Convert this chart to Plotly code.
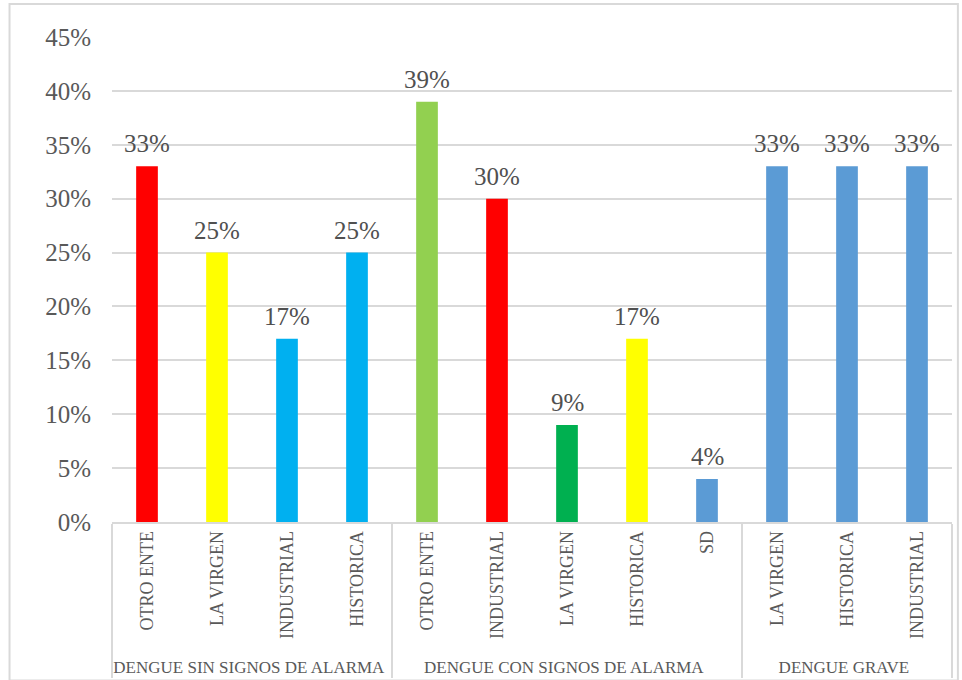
import plotly.graph_objects as go

groups = ["DENGUE SIN SIGNOS DE ALARMA"] * 4 + ["DENGUE CON SIGNOS DE ALARMA"] * 5 + ["DENGUE GRAVE"] * 3
categories = ["OTRO ENTE", "LA VIRGEN", "INDUSTRIAL", "HISTORICA",
              "OTRO ENTE", "INDUSTRIAL", "LA VIRGEN", "HISTORICA", "SD",
              "LA VIRGEN", "HISTORICA", "INDUSTRIAL"]
values = [0.33, 0.25, 0.17, 0.25, 0.39, 0.30, 0.09, 0.17, 0.04, 0.33, 0.33, 0.33]
colors = ["#FF0000", "#FFFF00", "#00B0F0", "#00B0F0",
          "#92D050", "#FF0000", "#00B050", "#FFFF00", "#5B9BD5",
          "#5B9BD5", "#5B9BD5", "#5B9BD5"]

FONT = "Liberation Serif"
GRAY = "#595959"

# make repeated inner labels unique (zero-width spaces) so the original order is kept
inner = [c + "\u200b" * i for i, c in enumerate(categories)]
outer = [f"<span style='font-size:17px'>{g}</span>" for g in groups]

fig = go.Figure()
fig.add_trace(go.Bar(
    x=[outer, inner], y=values,
    marker=dict(color=colors, line=dict(width=0)),
    width=0.31, hoverinfo="skip",
))

for i, v in enumerate(values):
    fig.add_annotation(x=i, y=v, text=f"{round(v*100)}%", showarrow=False,
                       yanchor="bottom", yshift=7,
                       font=dict(family=FONT, size=25, color="#505050"))

fig.update_layout(
    width=962, height=680,
    margin=dict(l=112, r=10, t=37, b=158),
    paper_bgcolor="white", plot_bgcolor="white",
    showlegend=False,
    font=dict(family=FONT, color=GRAY),
    yaxis=dict(range=[0, 0.45], dtick=0.05, tickformat=".0%",
               gridcolor="#D9D9D9", gridwidth=1.5, zeroline=False,
               showline=False, ticklabelstandoff=20, automargin=False,
               tickfont=dict(family=FONT, size=25, color=GRAY)),
    xaxis=dict(type="multicategory", tickangle=-90, automargin=False,
               showline=True, linecolor="#D9D9D9", linewidth=1.5,
               showdividers=True, dividercolor="#D9D9D9", dividerwidth=1.5,
               tickfont=dict(family=FONT, size=18, color=GRAY)),
)

fig.add_shape(type="rect", xref="paper", yref="paper",
              x0=-0.122, x1=1.007, y0=-0.327, y1=1.068,
              line=dict(color="#D9D9D9", width=2), layer="below")

fig.write_html("out.html")
